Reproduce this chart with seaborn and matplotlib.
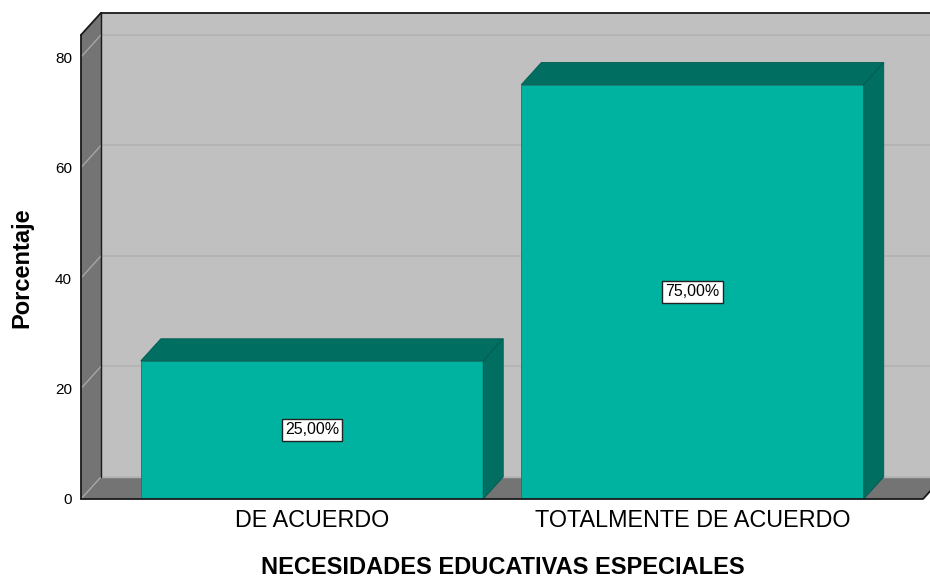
import matplotlib
matplotlib.use("Agg")
import matplotlib.pyplot as plt
import seaborn as sns
from matplotlib.patches import Polygon

# ---- data ----
categories = ["DE ACUERDO", "TOTALMENTE DE ACUERDO"]
values = [25.0, 75.0]
value_labels = ["25,00%", "75,00%"]
yticks = [0, 20, 40, 60, 80]
xlabel = "NECESIDADES EDUCATIVAS ESPECIALES"
ylabel = "Porcentaje"

sns.set_style("white")
plt.rcParams['font.family'] = ['Liberation Sans', 'DejaVu Sans']
plt.rcParams['text.color'] = 'black'
plt.rcParams['axes.labelcolor'] = 'black'

FRONT = "#00B2A0"
DARK = "#006F61"
WALL = "#C0C0C0"
SIDE = "#747474"
GRID_BACK = "#B2B2B2"
GRID_SIDE = "#A6A6A6"

fig = plt.figure(figsize=(9.30, 5.79), dpi=100)
ax = fig.add_axes([81/930, 80/579, 849/930, (499-7.3)/579])

XL, XR = -0.6071, 1.6242
YTOP_FRONT = 84.0
FRONT_R = 1.606
DX, DY = 0.0526, 4.0

# bars (seaborn)
sns.barplot(x=categories, y=values, color=FRONT, saturation=1, width=0.9,
            edgecolor="#00806F", linewidth=0.6, ax=ax, zorder=3)
bars = list(ax.patches)

# back wall
ax.add_patch(Polygon([(XL+DX, DY), (FRONT_R+DX+0.5, DY), (FRONT_R+DX+0.5, YTOP_FRONT+DY), (XL+DX, YTOP_FRONT+DY)],
                     closed=True, facecolor=WALL, edgecolor='none', zorder=0))
# left side wall
ax.add_patch(Polygon([(XL, 0), (XL, YTOP_FRONT), (XL+DX, YTOP_FRONT+DY), (XL+DX, DY)],
                     closed=True, facecolor=SIDE, edgecolor='none', zorder=0.5, clip_on=False))
# floor
ax.add_patch(Polygon([(XL, 0), (FRONT_R, 0), (FRONT_R+DX, DY), (XL+DX, DY)],
                     closed=True, facecolor=SIDE, edgecolor='none', zorder=0.5))

# grid lines
for v in yticks[1:]:
    ax.plot([XL+DX, FRONT_R+DX+0.5], [v+DY, v+DY], color=GRID_BACK, lw=1.2, zorder=0.3)
for v in yticks:
    ax.plot([XL, XL+DX], [v, v+DY], color=GRID_SIDE, lw=1.0, zorder=0.6, clip_on=False)
ax.plot([XL+DX, FRONT_R+DX+0.5], [DY, DY], color=GRID_BACK, lw=1.0, zorder=0.6)

# frame lines
k = dict(color='#1a1a1a', lw=1.3, zorder=5, clip_on=False)
ax.plot([XL, XL], [0, YTOP_FRONT], **k)
ax.plot([XL, XL+DX], [YTOP_FRONT, YTOP_FRONT+DY], **k)
ax.plot([XL+DX, XR], [YTOP_FRONT+DY, YTOP_FRONT+DY], **k)
ax.plot([XL+DX, XL+DX], [DY, YTOP_FRONT+DY], color='#1a1a1a', lw=1.0, zorder=0.7)
ax.plot([XL, FRONT_R], [0, 0], **k)
ax.plot([FRONT_R, FRONT_R+DX], [0, DY], color='#1a1a1a', lw=1.3, zorder=5)

for p, lab in zip(bars, value_labels):
    x0, w, h = p.get_x(), p.get_width(), p.get_height()
    top = Polygon([(x0, h), (x0+w, h), (x0+w+DX, h+DY), (x0+DX, h+DY)], closed=True,
                  facecolor=DARK, edgecolor="#005A4E", lw=0.6, zorder=3)
    side = Polygon([(x0+w, 0), (x0+w+DX, DY), (x0+w+DX, h+DY), (x0+w, h)], closed=True,
                   facecolor=DARK, edgecolor="#005A4E", lw=0.6, zorder=3)
    ax.add_patch(top)
    ax.add_patch(side)
    ax.text(x0 + w/2, h/2, lab, ha='center', va='center', fontsize=11.5, color='black', zorder=6,
            bbox=dict(boxstyle='square,pad=0.2', facecolor='white', edgecolor='#222222', lw=1.0))

ax.set_xlim(XL, XR)
ax.set_ylim(0, 89)
ax.set_yticks(yticks)
ax.set_yticklabels([str(t) for t in yticks])
for s in ax.spines.values():
    s.set_visible(False)
ax.tick_params(axis='y', length=0, pad=6.5, labelsize=11, colors='black')
ax.tick_params(axis='x', length=0, pad=7, labelsize=16.8, colors='black')
ax.set_xlabel(xlabel, fontsize=17, fontweight='bold', color='black')
ax.set_ylabel(ylabel, fontsize=17, fontweight='bold', color='black')
ax.xaxis.set_label_coords((503-81)/849, -(556.5-499)/491.7)
ax.yaxis.set_label_coords((33.7-81)/849, (499-267.5)/491.7)
ax.set_facecolor('white')
fig.patch.set_facecolor('white')

fig.savefig("out.png", dpi=100, facecolor='white')
